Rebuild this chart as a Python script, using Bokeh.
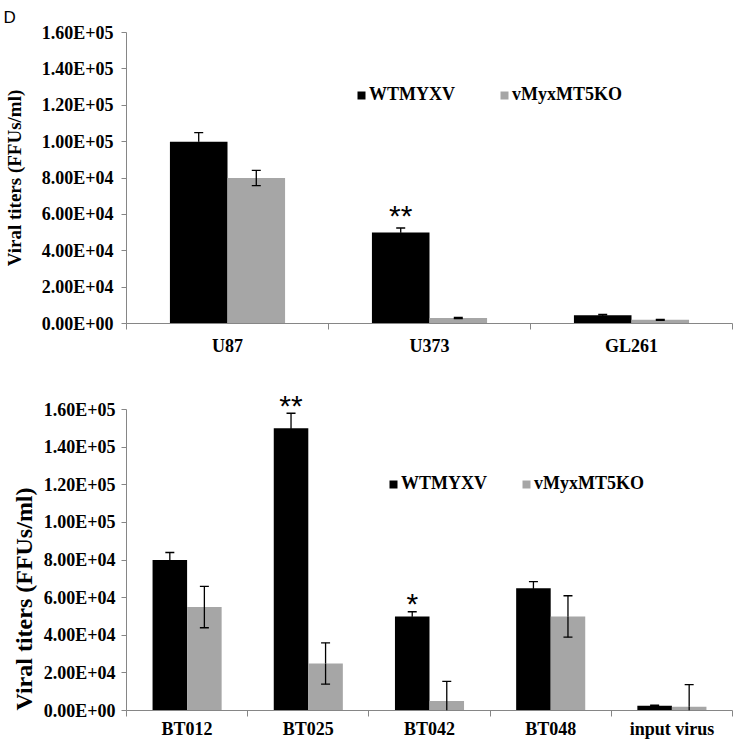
import numpy as np
from bokeh.plotting import figure
from bokeh.models import (ColumnDataSource, Range1d, FixedTicker, Whisker, TeeHead,
                          Legend, LegendItem, Title)
from bokeh.layouts import column
from bokeh.core.properties import value
from bokeh.embed import file_html
from bokeh.resources import INLINE

# ---------------- data ----------------
series_names = ["WTMYXV", "vMyxMT5KO"]

top_cats = ["U87", "U373", "GL261"]
top_wt = [100000, 50000, 4500]
top_wt_err = [5000, 2500, 500]
top_ko = [80000, 3000, 2000]
top_ko_err = [4200, 300, 300]
top_stars = ["", "**", ""]

bot_cats = ["BT012", "BT025", "BT042", "BT048", "input virus"]
bot_wt = [80000, 150000, 50000, 65000, 2500]
bot_wt_err = [4000, 8000, 2500, 3500, 300]
bot_ko = [55000, 25000, 5000, 50000, 2000]
bot_ko_err = [11000, 11000, 10500, 11000, 11800]
bot_stars = ["", "**", "*", "", ""]

y_ticks = [0, 20000, 40000, 60000, 80000, 100000, 120000, 140000, 160000]
y_tick_labels = ["0.00E+00", "2.00E+04", "4.00E+04", "6.00E+04", "8.00E+04",
                 "1.00E+05", "1.20E+05", "1.40E+05", "1.60E+05"]
y_title = "Viral titers (FFUs/ml)"
panel_letter = "D"

# ---------------- style ----------------
BLACK = "#000000"
GRAY = "#A6A6A6"
AXIS = "#868686"
SERIF = "Liberation Serif"
FS = "18px"
BAR_W = 0.285


def panel(cats, wt, wt_err, ko, ko_err, stars, height, borders, axis_px, head_px,
          title_size, x_standoff, y_standoff, title_standoff, legend_loc, legend_spacing,
          star_offset):
    n = len(cats)
    left, right, top, bottom = borders
    y_end = y_ticks[-1] * (axis_px + head_px) / axis_px
    p = figure(width=741, height=height, x_range=Range1d(0, n), y_range=Range1d(0, y_end),
               output_backend="svg", toolbar_location=None,
               min_border_left=left, min_border_right=right,
               min_border_top=top, min_border_bottom=bottom)
    p.grid.visible = False
    p.outline_line_color = None
    p.background_fill_color = "white"

    centers = np.arange(n) + 0.5
    wt_x = centers - BAR_W / 2
    ko_x = centers + BAR_W / 2

    r_wt = p.vbar(x=wt_x, top=wt, width=BAR_W, fill_color=BLACK, line_color=None)
    r_ko = p.vbar(x=ko_x, top=ko, width=BAR_W, fill_color=GRAY, line_color=None)

    xs = np.concatenate([wt_x, ko_x])
    vals = np.array(list(wt) + list(ko), dtype=float)
    errs = np.array(list(wt_err) + list(ko_err), dtype=float)

    up = ColumnDataSource(dict(x=xs, lower=vals, upper=vals + errs))
    p.add_layout(Whisker(source=up, base="x", lower="lower", upper="upper",
                         line_color=BLACK, line_width=1.3, level="annotation",
                         upper_head=TeeHead(size=9, line_color=BLACK, line_width=1.3),
                         lower_head=None))
    ok = vals - errs >= 0
    lo = ColumnDataSource(dict(x=xs[ok], lower=(vals - errs)[ok], upper=vals[ok]))
    p.add_layout(Whisker(source=lo, base="x", lower="lower", upper="upper",
                         line_color=BLACK, line_width=1.3, level="annotation",
                         lower_head=TeeHead(size=9, line_color=BLACK, line_width=1.3),
                         upper_head=None))
    cl = ~ok
    if cl.any():
        lc = ColumnDataSource(dict(x=xs[cl], lower=np.zeros(cl.sum()), upper=vals[cl]))
        p.add_layout(Whisker(source=lc, base="x", lower="lower", upper="upper",
                             line_color=BLACK, line_width=1.3, level="annotation",
                             lower_head=None, upper_head=None))

    star_src = ColumnDataSource(dict(x=wt_x, y=np.array(wt) + np.array(wt_err), t=stars))
    p.text(x="x", y="y", text="t", source=star_src, y_offset=star_offset,
           text_font=value("Liberation Sans"), text_font_size="30px",
           text_align="center", text_baseline="alphabetic", text_color=BLACK)

    # y axis
    ya = p.yaxis[0]
    ya.ticker = FixedTicker(ticks=y_ticks)
    ya.bounds = (y_ticks[0], y_ticks[-1])
    ya.major_label_overrides = dict(zip(y_ticks, y_tick_labels))
    ya.axis_line_color = AXIS
    ya.major_tick_line_color = AXIS
    ya.major_tick_out = 5
    ya.major_tick_in = 0
    ya.minor_tick_line_color = None
    ya.major_label_text_font = SERIF
    ya.major_label_text_font_style = "bold"
    ya.major_label_text_font_size = FS
    ya.major_label_text_color = BLACK
    ya.major_label_standoff = y_standoff
    if title_size is not None:
        ya.axis_label = y_title
        ya.axis_label_text_font = SERIF
        ya.axis_label_text_font_style = "bold"
        ya.axis_label_text_font_size = title_size
        ya.axis_label_text_color = BLACK
        ya.axis_label_standoff = title_standoff

    # x axis
    xa = p.xaxis[0]
    xa.ticker = FixedTicker(ticks=list(centers), minor_ticks=list(range(0, n + 1)))
    xa.major_label_overrides = {float(c): name for c, name in zip(centers, cats)}
    xa.axis_line_color = AXIS
    xa.major_tick_line_color = None
    xa.major_tick_out = 0
    xa.major_tick_in = 0
    xa.minor_tick_line_color = AXIS
    xa.minor_tick_out = 6
    xa.minor_tick_in = 0
    xa.major_label_text_font = SERIF
    xa.major_label_text_font_style = "bold"
    xa.major_label_text_font_size = FS
    xa.major_label_text_color = BLACK
    xa.major_label_standoff = x_standoff

    legend = Legend(items=[LegendItem(label=series_names[0], renderers=[r_wt]),
                           LegendItem(label=series_names[1], renderers=[r_ko])],
                    orientation="horizontal", location=legend_loc,
                    glyph_width=10, glyph_height=10, label_height=20,
                    label_standoff=3, spacing=legend_spacing, padding=0, margin=0,
                    border_line_color=None, background_fill_alpha=0,
                    label_text_font=SERIF, label_text_font_style="bold",
                    label_text_font_size=FS, label_text_color=BLACK)
    p.add_layout(legend)
    return p


p_top = panel(top_cats, top_wt, top_wt_err, top_ko, top_ko_err, top_stars,
              height=358, borders=(123, 2, 32, 35), axis_px=291, head_px=0,
              title_size="19px", x_standoff=6, y_standoff=8, title_standoff=14,
              legend_loc=(230, 218), legend_spacing=44, star_offset=-13)
p_top.title.text = panel_letter
p_top.title.text_font = "Liberation Sans"
p_top.title.text_font_style = "normal"
p_top.title.text_font_size = "17px"
p_top.title.text_color = BLACK
p_top.title.align = "left"
p_top.title.offset = -123
p_top.title.standoff = 11

p_bot = panel(bot_cats, bot_wt, bot_wt_err, bot_ko, bot_ko_err, bot_stars,
              height=385, borders=(119, 9, 27, 33), axis_px=301, head_px=24,
              title_size=None, x_standoff=2, y_standoff=6, title_standoff=0,
              legend_loc=(262, 216), legend_spacing=34, star_offset=-8)
p_bot.add_layout(Title(text=y_title, align="left", offset=0, standoff=8,
                       text_font=SERIF, text_font_style="bold", text_font_size="24px",
                       text_color=BLACK), "left")

layout = column(p_top, p_bot, spacing=0)
open("out.html", "w").write(file_html(layout, INLINE))
